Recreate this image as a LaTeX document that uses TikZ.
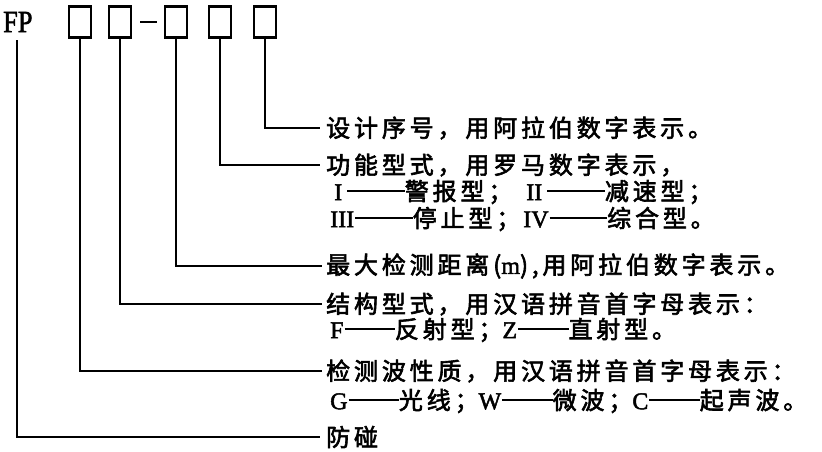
\documentclass[tikz,border=0pt]{standalone}
\usepackage{fontspec}
\setmainfont{Liberation Serif}
\newfontfamily\cjk[FakeBold=2.5,LetterSpace=16]{Noto Sans CJK SC}
\newfontfamily\latn[FakeBold=2]{Liberation Serif}
\newcommand\lt[1]{{\latn #1}}
\newcommand\dsh[1][2.1em]{\hspace{1pt}\rule[0.36em]{#1}{1.6pt}}
\begin{document}
\begin{tikzpicture}[x=1pt,y=-1pt]
\useasboundingbox (0,0) rectangle (822,451);
\tikzset{
  codebox/.style={draw,line width=2.9pt,minimum width=22pt,minimum height=31pt,inner sep=0pt},
  lead/.style={line width=2.4pt},
  desc/.style={anchor=west,inner sep=0pt,font=\cjk\fontsize{24}{24}\selectfont}
}
\node[font=\latn\fontsize{31}{31}\selectfont,inner sep=0pt,anchor=west,xscale=0.85] (fp) at (3,22) {FP};
\node[codebox] (b1) at (80,22) {};
\node[codebox] (b2) at (120,22) {};
\node[codebox] (b3) at (176,22) {};
\node[codebox] (b4) at (220,22) {};
\node[codebox] (b5) at (265,22) {};
\draw[line width=2.8pt] ([xshift=8pt]b2.east) -- ([xshift=-7pt]b3.west);
\coordinate (fpleg) at (17,40);

\node[desc] (t1) at (326,128) {设计序号，用阿拉伯数字表示。};
\node[desc] (t2) at (326,165) {功能型式，用罗马数字表示，};
\node[desc] (t2a) at (334,192) {\lt{I}\hspace{4pt}\dsh[2.4em]警报型；\hspace{14pt}\lt{II}\hspace{4pt}\dsh[2.4em]减速型；};
\node[desc] (t2b) at (330,219) {\lt{III}\dsh[2.4em]停止型；\hspace{3pt}\lt{IV}\dsh[2.4em]综合型。};
\node[desc] (t3) at (326,266) {最大检测距离(\lt{m}),用阿拉伯数字表示。};
\node[desc] (t4) at (326,304) {结构型式，用汉语拼音首字母表示：};
\node[desc] (t4a) at (330,330) {\lt{F}\dsh 反射型；\lt{Z}\dsh 直射型。};
\node[desc] (t5) at (326,371) {检测波性质，用汉语拼音首字母表示：};
\node[desc] (t5a) at (330,401) {\lt{G}\dsh 光线；\lt{W}\dsh 微波；\lt{C}\dsh 起声波。};
\node[desc] (t6) at (326,437) {防碰};

\draw[lead] (b5.south) |- ([xshift=-6pt]t1.west);
\draw[lead] (b4.south) |- ([xshift=-6pt]t2.west);
\draw[lead] (b3.south) |- ([xshift=-4pt]t3.west);
\draw[lead] (b2.south) |- ([xshift=-4pt]t4.west);
\draw[lead] (b1.south) |- ([xshift=-4pt]t5.west);
\draw[lead] (fpleg) |- ([xshift=-6pt]t6.west);
\end{tikzpicture}
\end{document}
